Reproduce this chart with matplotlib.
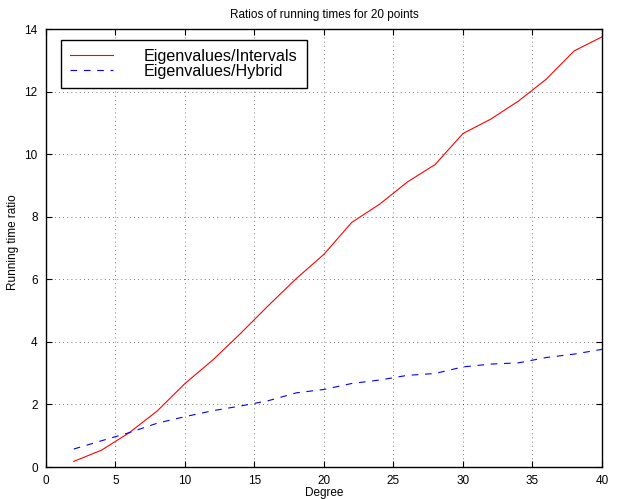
import matplotlib
matplotlib.use("Agg")
import matplotlib.pyplot as plt

plt.rcParams['font.family'] = ['Liberation Sans', 'DejaVu Sans']

degree = [2, 4, 6, 8, 10, 12, 14, 16, 18, 20, 22, 24, 26, 28, 30, 32, 34, 36, 38, 40]
ratio_intervals = [0.18, 0.54, 1.1, 1.79, 2.67, 3.42, 4.27, 5.16, 6.02, 6.8,
                   7.82, 8.4, 9.11, 9.67, 10.66, 11.12, 11.7, 12.4, 13.3, 13.75]
ratio_hybrid = [0.575, 0.84, 1.1, 1.4, 1.61, 1.8, 1.95, 2.12, 2.37, 2.48,
                2.67, 2.78, 2.93, 2.99, 3.2, 3.29, 3.33, 3.5, 3.61, 3.76]
xticks = [0, 5, 10, 15, 20, 25, 30, 35, 40]
yticks = [0, 2, 4, 6, 8, 10, 12, 14]

fig = plt.figure(figsize=(6.18, 4.99), dpi=100)
ax = fig.add_axes([0.0744, 0.0641, 0.8996, 0.8777])

ax.plot(degree, ratio_intervals, color='red', linestyle='-', linewidth=0.8,
        label='Eigenvalues/Intervals')
ax.plot(degree, ratio_hybrid, color='blue', linestyle=(0, (6, 6)), linewidth=0.8,
        label='Eigenvalues/Hybrid')

ax.set_xlim(0, 40)
ax.set_ylim(0, 14)
ax.set_xticks(xticks)
ax.set_yticks(yticks)
ax.tick_params(direction='in', top=True, right=True, labelsize=8.5, length=4, pad=6)
ax.grid(True, linestyle=(0, (1, 4)), color='black', linewidth=0.6, alpha=0.7)
for s in ax.spines.values():
    s.set_linewidth(1.0)

ax.set_title('Ratios of running times for 20 points', fontsize=8.5, pad=8)
ax.set_xlabel('Degree', fontsize=8.5, labelpad=0)
ax.set_ylabel('Running time ratio', fontsize=8.5, labelpad=3)
ax.yaxis.set_label_coords(-0.049, 0.514)
ax.xaxis.set_label_coords(0.5, -0.046)

leg = ax.legend(loc='upper left', fontsize=11.6, frameon=True, fancybox=False,
                edgecolor='black', framealpha=1, handlelength=2.7,
                handletextpad=1.9, borderpad=0.55, labelspacing=0.0,
                borderaxespad=0, bbox_to_anchor=(0.027, 0.975))
leg.get_frame().set_linewidth(1.0)

fig.savefig('out.png', dpi=100)
